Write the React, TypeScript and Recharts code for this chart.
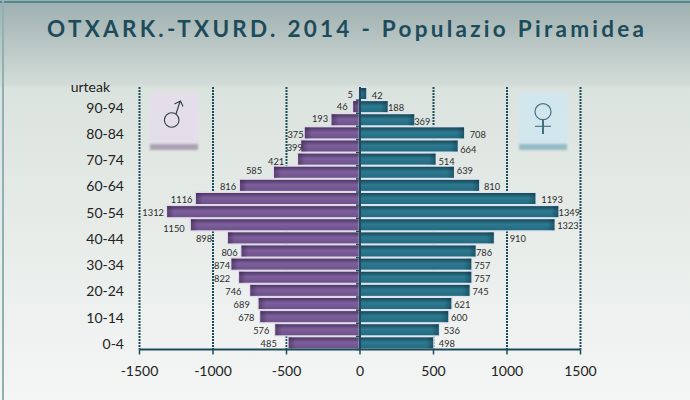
import React from "react";
import { BarChart, Bar, XAxis, YAxis, CartesianGrid, ReferenceLine, LabelList } from "recharts";

const ageGroups = ["95-99","90-94","85-89","80-84","75-79","70-74","65-69","60-64","55-59","50-54","45-49","40-44","35-39","30-34","25-29","20-24","15-19","10-14","5-9","0-4"];
const ageLabels = ["urteak","90-94","","80-84","","70-74","","60-64","","50-54","","40-44","","30-34","","20-24","","10-14","","0-4"];
const maleValues = [5,46,193,375,399,421,585,816,1116,1312,1150,898,806,874,822,746,689,678,576,485];
const femaleValues = [42,188,369,708,664,514,639,810,1193,1349,1323,910,786,757,757,745,621,600,536,498];
const xTicks = [-1500,-1000,-500,0,500,1000,1500];
const maleLabelGap = [9,11,11.6,9.3,6.6,22,20,12,14.3,14,17,24,12,9.5,17,17,17,14,14,20];
const femaleLabelGap = [11,8.4,8,13.7,10.7,11,11,13,16.7,11,13.5,24,8.5,11,11,11,11,11,13,13.7];
const maleLabelShift = [1,0,-1,1.5,1,2,-1.5,1.5,0.5,1,4,1,1.5,1.5,1.5,1,1,1,1,1];
const femaleLabelShift = [1.5,1,2,1.3,3.5,2,-1.5,1.3,1,1,1,1,1.5,1.5,1.5,1,1,1,1,1];

const rows = ageGroups.map((age, i) => ({ age, male: -maleValues[i], female: femaleValues[i] }));
const FONT = "Lato, Carlito, sans-serif";
const DARK = "#1d4b5b";

function makeBar(gradId: string, endId: string, halo: string, side: "l" | "r") {
  return (p: any) => {
    const x0 = Math.min(p.x, p.x + p.width);
    const w = Math.abs(p.width);
    const y = p.y, h = p.height;
    const endW = Math.min(w, 7);
    return (
      <g>
        <rect x={x0} y={y} width={w} height={h} fill={`url(#${gradId})`} stroke={halo} strokeWidth={2.5} paintOrder="stroke" />
        <rect x={side === "l" ? x0 : x0 + w - endW} y={y} width={endW} height={h} fill={`url(#${endId})`} />
      </g>
    );
  };
}

function makeLabel(gaps: number[], shifts: number[], side: "l" | "r") {
  return (p: any) => {
    const i = p.index;
    const x0 = Math.min(p.x, p.x + p.width);
    const x1 = Math.max(p.x, p.x + p.width);
    const cx = side === "l" ? x0 - gaps[i] : x1 + gaps[i];
    return (
      <text x={cx} y={p.y + p.height / 2 + shifts[i]} textAnchor="middle" dominantBaseline="central" fontFamily={FONT} fontSize={9.3} fill="#2b2b2b">
        {Math.abs(p.value)}
      </text>
    );
  };
}

function AgeTick(p: any) {
  const i = ageGroups.indexOf(p.payload.value);
  const label = ageLabels[i];
  const isHeader = i === 0;
  return (
    <text
      x={isHeader ? 110 : 124}
      y={p.y + (isHeader ? -7 : 0.5)}
      textAnchor="end"
      dominantBaseline="central"
      fontFamily={FONT}
      fontSize={14}
      fill="#222"
    >
      {label}
    </text>
  );
}

function ZeroAxis(p: any) {
  const { x1, y1, x2, y2 } = p;
  const step = (y2 - y1) / ageGroups.length;
  return (
    <g stroke={DARK}>
      <line x1={x1} y1={y1} x2={x2} y2={y2} strokeWidth={2} />
      {ageGroups.map((a, i) => (
        <line key={a} x1={x1 - 4} x2={x1} y1={y1 + i * step} y2={y1 + i * step} strokeWidth={1.5} />
      ))}
    </g>
  );
}

function Sign({ left, bg, band, children }: any) {
  return (
    <>
      <div style={{ position: "absolute", left, top: 93, width: 48, height: 50, background: bg, boxShadow: `0 0 3px ${bg}` }} />
      <div style={{ position: "absolute", left, top: 144, width: 48, height: 6, background: band, filter: "blur(1px)" }} />
      <svg style={{ position: "absolute", left, top: 93 }} width={48} height={50}>{children}</svg>
    </>
  );
}

export default function App() {
  return (
    <div style={{ position: "absolute", left: 0, top: 0, width: 690, height: 400, overflow: "hidden", background: "linear-gradient(180deg,#9dafaf 0,#d3dcd8 85px,#dbe3de 88px,#e6ebe8 220px,#f4f6f5 400px)" }}>
      <div style={{ position: "absolute", left: 0, top: 1, width: 690, height: 2, background: "#4f8792" }} />
      <div style={{ position: "absolute", left: 2, top: 1, width: 1.5, height: 399, background: "#8fb0b4" }} />
      <div style={{ position: "absolute", left: 47, top: 15, width: 640, whiteSpace: "nowrap", fontFamily: FONT, fontWeight: 700, fontSize: 22.5, lineHeight: "28px", letterSpacing: 3.27, color: DARK }}>
        OTXARK.-TXURD. 2014 - Populazio Piramidea
      </div>
      <Sign left={150} bg="#e4deeb" band="#aba1b4">
        <g fill="none" stroke="#2c3a40" strokeWidth={1.1}>
          <circle cx={21.7} cy={27} r={7.3} />
          <path d="M26 21 L30 8.5 M24.5 11 L30.5 8 L33 13.5" />
        </g>
      </Sign>
      <Sign left={519} bg="#d2e7ed" band="#94bcc7">
        <g fill="none" stroke="#44707d">
          <circle cx={24} cy={18.7} r={8} strokeWidth={1.2} />
          <path d="M16 33.3 H32" strokeWidth={1.1} />
          <path d="M24 26.7 V41" strokeWidth={2} />
        </g>
      </Sign>
      <div style={{ position: "absolute", left: 0, top: 0 }}>
        <BarChart
          width={690}
          height={400}
          data={rows}
          layout="vertical"
          stackOffset="sign"
          barSize={11}
          margin={{ top: 87, left: 0, right: 109.5, bottom: 0 }}
        >
          <defs>
            <linearGradient id="mg" x1="0" y1="0" x2="0" y2="1">
              <stop offset="0" stopColor="#4c3864" />
              <stop offset="0.45" stopColor="#7e5f9d" />
              <stop offset="1" stopColor="#6d5289" />
            </linearGradient>
            <linearGradient id="fg" x1="0" y1="0" x2="0" y2="1">
              <stop offset="0" stopColor="#1a4757" />
              <stop offset="0.45" stopColor="#2c7a91" />
              <stop offset="1" stopColor="#256a80" />
            </linearGradient>
            <linearGradient id="me" x1="0" y1="0" x2="1" y2="0">
              <stop offset="0" stopColor="#2f2340" stopOpacity={0.45} />
              <stop offset="1" stopColor="#2f2340" stopOpacity={0} />
            </linearGradient>
            <linearGradient id="fe" x1="0" y1="0" x2="1" y2="0">
              <stop offset="0" stopColor="#10303e" stopOpacity={0} />
              <stop offset="1" stopColor="#10303e" stopOpacity={0.45} />
            </linearGradient>
          </defs>
          <CartesianGrid horizontal={false} stroke={DARK} strokeWidth={2} strokeDasharray="2 1" />
          <XAxis
            type="number"
            domain={[-1500, 1500]}
            ticks={xTicks}
            height={50.5}
            interval={0}
            tick={{ fontFamily: FONT, fontSize: 14, fill: "#222", dy: 10 }}
            tickSize={5}
            tickLine={{ stroke: DARK, strokeWidth: 1.5 }}
            axisLine={{ stroke: DARK, strokeWidth: 2 }}
          />
          <YAxis type="category" dataKey="age" width={139.5} interval={0} tick={AgeTick} tickLine={false} axisLine={false} />
          <Bar dataKey="male" stackId="a" isAnimationActive={false} shape={makeBar("mg", "me", "#e2d8ea", "l")}>
            <LabelList dataKey="male" content={makeLabel(maleLabelGap, maleLabelShift, "l")} />
          </Bar>
          <Bar dataKey="female" stackId="a" isAnimationActive={false} shape={makeBar("fg", "fe", "#dbe5f1", "r")}>
            <LabelList dataKey="female" content={makeLabel(femaleLabelGap, femaleLabelShift, "r")} />
          </Bar>
          <ReferenceLine x={0} shape={ZeroAxis} />
        </BarChart>
      </div>
    </div>
  );
}
